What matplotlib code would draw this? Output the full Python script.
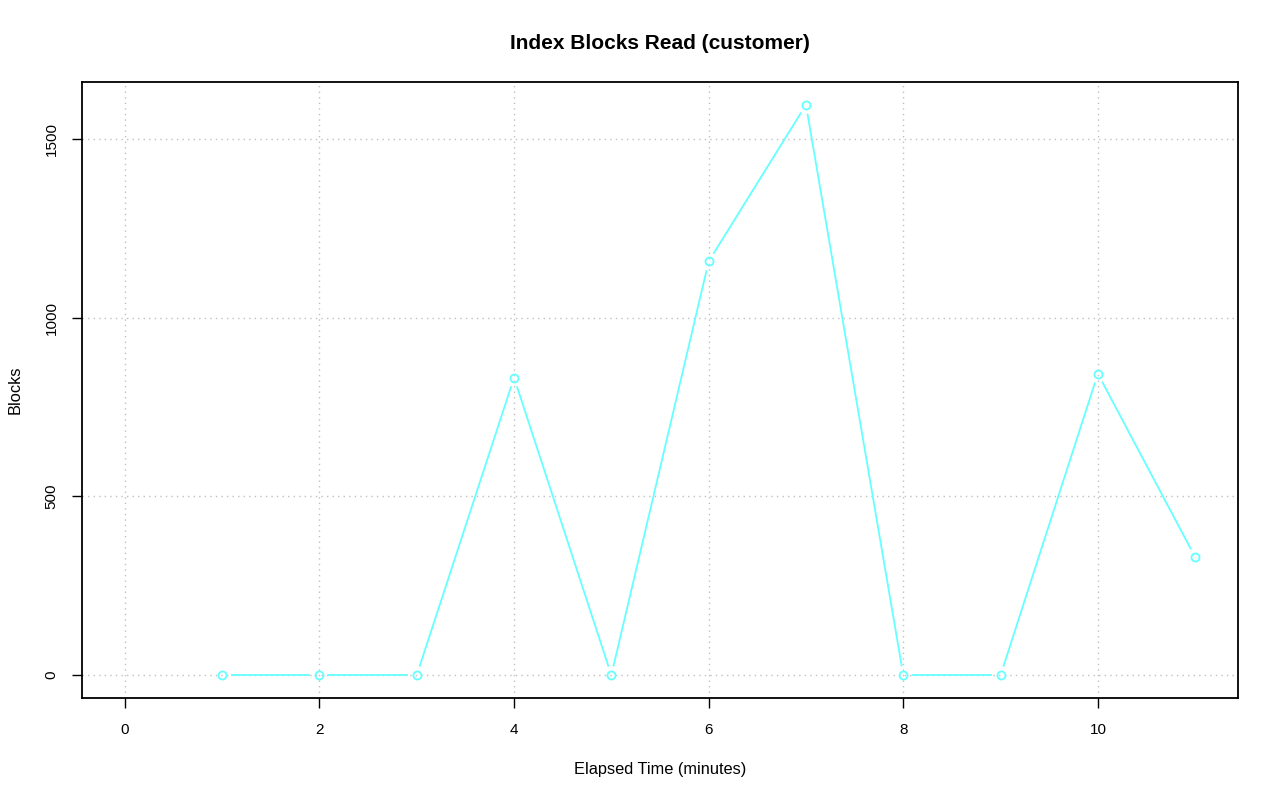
import matplotlib
matplotlib.use("Agg")
import matplotlib.pyplot as plt
import numpy as np

minutes = [1, 2, 3, 4, 5, 6, 7, 8, 9, 10, 11]
blocks = [0, 0, 0, 832, 0, 1157, 1595, 0, 0, 843, 330]
x_ticks = [0, 2, 4, 6, 8, 10]
y_ticks = [0, 500, 1000, 1500]

plt.rcParams['font.family'] = ['Liberation Sans', 'DejaVu Sans']

fig = plt.figure(figsize=(12.8, 8.01), dpi=100)
ax = fig.add_axes([82/1280, 103/801, (1238-82)/1280, (698-82)/801])

xmin, xmax = 0, 11
ymax = max(blocks)
ax.set_xlim(xmin - 0.04*(xmax-xmin), xmax + 0.04*(xmax-xmin))
ax.set_ylim(0 - 0.04*ymax, ymax + 0.04*ymax)

ax.set_xticks(x_ticks)
ax.set_yticks(y_ticks)
ax.set_yticklabels([str(v) for v in y_ticks], rotation=90, va='center')
ax.tick_params(direction='out', length=7, width=1, labelsize=11, colors='black')
ax.tick_params(axis='x', pad=11)
ax.tick_params(axis='y', pad=10)
for s in ax.spines.values():
    s.set_linewidth(1.3)

ax.grid(True, color='#c0c0c0', linestyle=(0, (1, 3)), linewidth=1)
ax.set_axisbelow(True)

col = '#66ffff'
# lines with gaps around points (R type="b")
fig.canvas.draw()
tr = ax.transData
inv = tr.inverted()
pts = tr.transform(np.column_stack([minutes, blocks]))
gap = 9.0
for i in range(len(pts) - 1):
    p0, p1 = pts[i], pts[i+1]
    d = p1 - p0
    L = np.hypot(*d)
    if L <= 2*gap:
        continue
    u = d / L
    a = inv.transform(p0 + u*gap)
    b = inv.transform(p1 - u*gap)
    ax.plot([a[0], b[0]], [a[1], b[1]], color=col, linewidth=1.3, solid_capstyle='butt')

ax.plot(minutes, blocks, linestyle='none', marker='o', markersize=5.8,
        markerfacecolor='none', markeredgecolor=col, markeredgewidth=1.3)

ax.set_title('Index Blocks Read (customer)', fontsize=15, fontweight='bold', pad=24)
ax.set_xlabel('Elapsed Time (minutes)', fontsize=11.8, labelpad=18)
ax.set_ylabel('Blocks', fontsize=11.8, labelpad=16)

fig.savefig('out.png', dpi=100)
